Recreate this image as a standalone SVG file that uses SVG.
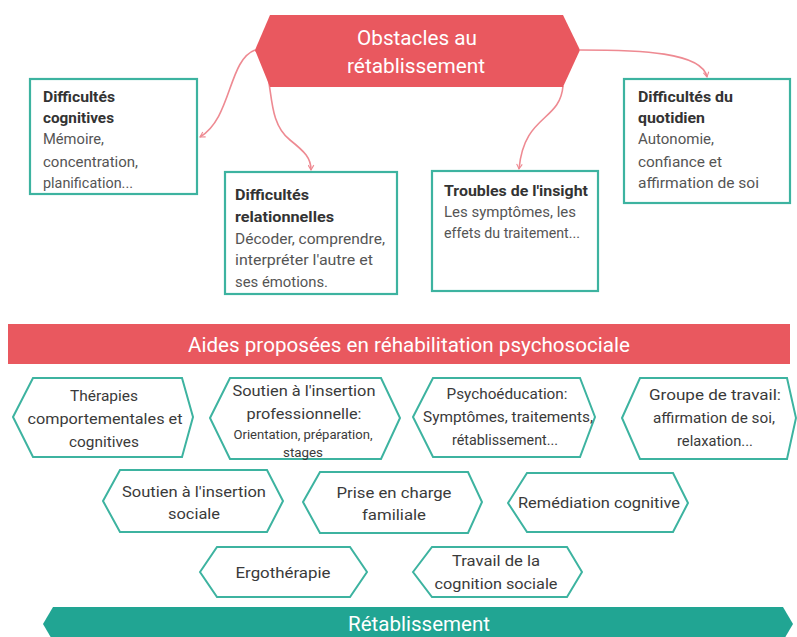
<svg xmlns="http://www.w3.org/2000/svg" width="797" height="637" viewBox="0 0 797 637">
<defs>
<marker id="arr" viewBox="0 0 10 10" refX="8" refY="5" markerWidth="7" markerHeight="7" orient="auto" markerUnits="userSpaceOnUse">
<path d="M1,1 L8,5 L1,9" fill="none" stroke="#EE8A92" stroke-width="1.6"/>
</marker>
</defs>
<style>
text{font-family:Roboto,"Liberation Sans",sans-serif;}
.box{fill:#fff;stroke:#3DB3A0;stroke-width:2.2;}
.hex{fill:#fff;stroke:#3DB3A0;stroke-width:2;}
.ban{fill:#E9585F;}
.ban2{fill:#21A593;}
.wt{fill:#fff;font-size:21px;}
.tt{fill:#333;font-size:15.5px;font-weight:bold;}
.bt{fill:#555;font-size:15.5px;}
.ht{fill:#3a3a3a;font-size:15.5px;text-anchor:middle;}
.hs{fill:#3a3a3a;font-size:12.5px;text-anchor:middle;}
.con{fill:none;stroke:#EE8A92;stroke-width:1.6;marker-end:url(#arr);}
</style>
<rect width="797" height="637" fill="#fff"/>

<g id="connectors">
<path class="con" d="M255,50 C228,60 232,118 200,137"/>
<path class="con" d="M255,50 C278,70 262,118 290,140 C305,152 311,158 311,170"/>
<path class="con" d="M563,86 C560,122 524,114 519,169"/>
<path class="con" d="M580,50 C640,50 702,52 707,77"/>
</g>

<g id="obstacles">
<polygon class="ban" points="255,50 270,15 563,15 580,50 563,87 270,87"/>
<text class="wt" x="417" y="45" text-anchor="middle" textLength="120" lengthAdjust="spacingAndGlyphs">Obstacles au</text>
<text class="wt" x="416" y="73" text-anchor="middle" textLength="138" lengthAdjust="spacingAndGlyphs">rétablissement</text>
</g>

<g id="cognitives">
<rect class="box" x="30" y="79" width="167" height="115"/>
<text class="tt" x="43" y="102" textLength="72" lengthAdjust="spacingAndGlyphs">Difficultés</text>
<text class="tt" x="43" y="123" textLength="71" lengthAdjust="spacingAndGlyphs">cognitives</text>
<text class="bt" x="43" y="144" textLength="61" lengthAdjust="spacingAndGlyphs">Mémoire,</text>
<text class="bt" x="43" y="167" textLength="95" lengthAdjust="spacingAndGlyphs">concentration,</text>
<text class="bt" x="43" y="188" textLength="90" lengthAdjust="spacingAndGlyphs">planification...</text>
</g>

<g id="relationnelles">
<rect class="box" x="225" y="172" width="172" height="122"/>
<text class="tt" x="235" y="200" textLength="74" lengthAdjust="spacingAndGlyphs">Difficultés</text>
<text class="tt" x="235" y="222" textLength="99" lengthAdjust="spacingAndGlyphs">relationnelles</text>
<text class="bt" x="235" y="244" textLength="150" lengthAdjust="spacingAndGlyphs">Décoder, comprendre,</text>
<text class="bt" x="235" y="265" textLength="138" lengthAdjust="spacingAndGlyphs">interpréter l'autre et</text>
<text class="bt" x="235" y="287" textLength="93" lengthAdjust="spacingAndGlyphs">ses émotions.</text>
</g>

<g id="insight">
<rect class="box" x="432" y="171" width="166" height="120"/>
<text class="tt" x="444" y="196" textLength="144" lengthAdjust="spacingAndGlyphs">Troubles de l'insight</text>
<text class="bt" x="444" y="217" textLength="132" lengthAdjust="spacingAndGlyphs">Les symptômes, les</text>
<text class="bt" x="444" y="238" textLength="136" lengthAdjust="spacingAndGlyphs">effets du traitement...</text>
</g>

<g id="quotidien">
<rect class="box" x="624" y="79" width="166" height="124"/>
<text class="tt" x="638" y="102" textLength="95" lengthAdjust="spacingAndGlyphs">Difficultés du</text>
<text class="tt" x="638" y="123" textLength="67" lengthAdjust="spacingAndGlyphs">quotidien</text>
<text class="bt" x="638" y="144" textLength="76" lengthAdjust="spacingAndGlyphs">Autonomie,</text>
<text class="bt" x="638" y="167" textLength="84" lengthAdjust="spacingAndGlyphs">confiance et</text>
<text class="bt" x="638" y="188" textLength="121" lengthAdjust="spacingAndGlyphs">affirmation de soi</text>
</g>

<g id="aides">
<rect class="ban" x="8" y="324" width="782" height="40"/>
<text class="wt" x="409" y="352" text-anchor="middle" textLength="442" lengthAdjust="spacingAndGlyphs">Aides proposées en réhabilitation psychosociale</text>
</g>

<g id="tcc">
<polygon class="hex" points="13,417 33,378 182,378 193,417 182,457 33,457"/>
<text class="ht" x="104" y="401" textLength="68" lengthAdjust="spacingAndGlyphs">Thérapies</text>
<text class="ht" x="105" y="424" textLength="155" lengthAdjust="spacingAndGlyphs">comportementales et</text>
<text class="ht" x="104" y="447" textLength="70" lengthAdjust="spacingAndGlyphs">cognitives</text>
</g>

<g id="insertion-pro">
<polygon class="hex" points="210,418 230,378 381,378 400,418 381,459 230,459"/>
<text class="ht" x="304" y="396" textLength="143" lengthAdjust="spacingAndGlyphs">Soutien à l'insertion</text>
<text class="ht" x="304" y="419" textLength="115" lengthAdjust="spacingAndGlyphs">professionnelle:</text>
<text class="hs" x="303" y="439" textLength="139" lengthAdjust="spacingAndGlyphs">Orientation, préparation,</text>
<text class="hs" x="303" y="457" textLength="40" lengthAdjust="spacingAndGlyphs">stages</text>
</g>

<g id="psychoeducation">
<polygon class="hex" points="413,417 433,378 580,378 595,417 580,457 433,457"/>
<text class="ht" x="507" y="399" textLength="121" lengthAdjust="spacingAndGlyphs">Psychoéducation:</text>
<text class="ht" x="508" y="422" textLength="170" lengthAdjust="spacingAndGlyphs">Symptômes, traitements,</text>
<text class="ht" x="505" y="445" textLength="106" lengthAdjust="spacingAndGlyphs">rétablissement...</text>
</g>

<g id="groupe">
<polygon class="hex" points="622,418 640,378 787,378 796,418 787,459 640,459"/>
<text class="ht" x="715" y="400" textLength="132" lengthAdjust="spacingAndGlyphs">Groupe de travail:</text>
<text class="ht" x="714" y="423" textLength="122" lengthAdjust="spacingAndGlyphs">affirmation de soi,</text>
<text class="ht" x="715" y="446" textLength="76" lengthAdjust="spacingAndGlyphs">relaxation...</text>
</g>

<g id="insertion-sociale">
<polygon class="hex" points="103,501 120,470 267,470 283,501 267,532 120,532"/>
<text class="ht" x="194" y="497" textLength="144" lengthAdjust="spacingAndGlyphs">Soutien à l'insertion</text>
<text class="ht" x="194" y="519" textLength="52" lengthAdjust="spacingAndGlyphs">sociale</text>
</g>

<g id="familiale">
<polygon class="hex" points="303,502 320,472 468,472 482,502 468,533 320,533"/>
<text class="ht" x="394" y="498" textLength="115" lengthAdjust="spacingAndGlyphs">Prise en charge</text>
<text class="ht" x="394" y="520" textLength="64" lengthAdjust="spacingAndGlyphs">familiale</text>
</g>

<g id="remediation">
<polygon class="hex" points="508,503 527,473 673,473 688,503 673,532 527,532"/>
<text class="ht" x="599" y="508" textLength="162" lengthAdjust="spacingAndGlyphs">Remédiation cognitive</text>
</g>

<g id="ergotherapie">
<polygon class="hex" points="200,572 217,547 350,547 367,572 350,597 217,597"/>
<text class="ht" x="283" y="578" textLength="95" lengthAdjust="spacingAndGlyphs">Ergothérapie</text>
</g>

<g id="cognition-sociale">
<polygon class="hex" points="413,572 432,547 567,547 582,572 567,597 432,597"/>
<text class="ht" x="496" y="566" textLength="88" lengthAdjust="spacingAndGlyphs">Travail de la</text>
<text class="ht" x="496" y="589" textLength="123" lengthAdjust="spacingAndGlyphs">cognition sociale</text>
</g>

<g id="retablissement">
<polygon class="ban2" points="43,624 53,607 783,607 793,624 783,641 53,641"/>
<text class="wt" x="419" y="631" text-anchor="middle" textLength="142" lengthAdjust="spacingAndGlyphs">Rétablissement</text>
</g>
</svg>
